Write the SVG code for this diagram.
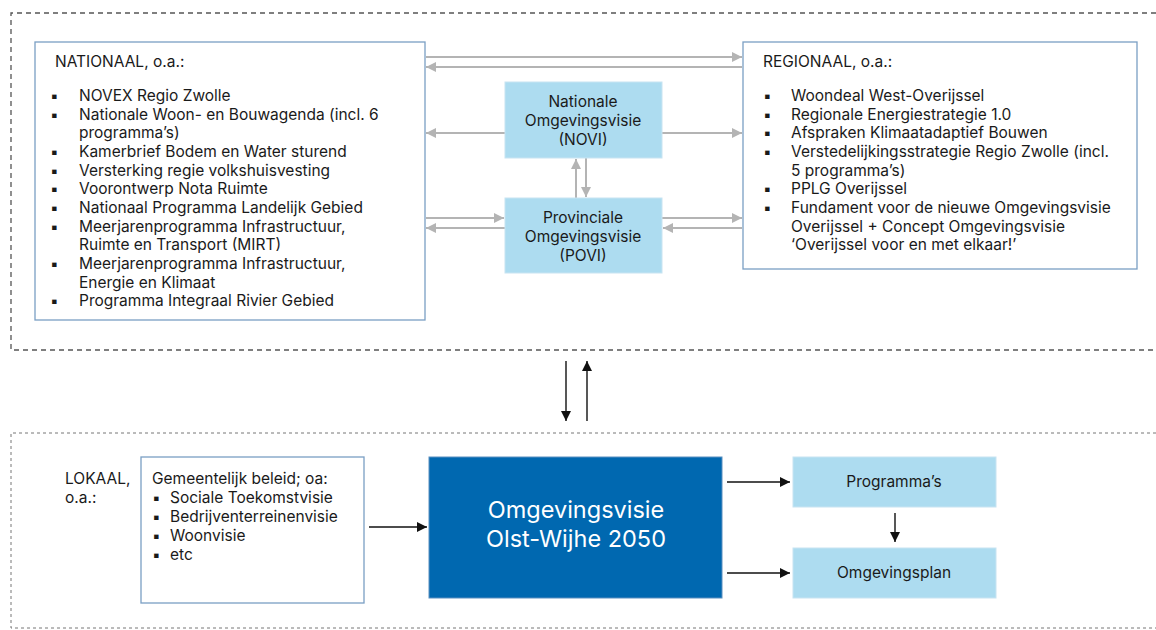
<svg xmlns="http://www.w3.org/2000/svg" width="1156" height="630" viewBox="0 0 1156 630">
<style>
text{font-family:Inter,"Noto Sans",sans-serif;font-size:15.5px;fill:#1a1a1a}
.frame{fill:none;stroke:#555;stroke-width:1.3;stroke-dasharray:5 4}
.frame2{fill:none;stroke:#777;stroke-width:1;stroke-dasharray:3 3}
.box{fill:#fff;stroke:#7a9fc4;stroke-width:1.3}
.lb{fill:#addcf0;stroke:#c8e4f2;stroke-width:1}
.g{stroke:#b4b4b4;stroke-width:2;fill:none}
.k{stroke:#111;stroke-width:1.4;fill:none}
.c{text-anchor:middle}
.big{font-size:23.5px;fill:#fff}
</style>
<defs>
<marker id="ag" viewBox="0 0 10 10" refX="10" refY="5" markerWidth="10" markerHeight="10" markerUnits="userSpaceOnUse" orient="auto"><path d="M0,0L10,5L0,10z" fill="#b4b4b4"/></marker>
<marker id="ak" viewBox="0 0 10 10" refX="10" refY="5" markerWidth="10" markerHeight="10" markerUnits="userSpaceOnUse" orient="auto"><path d="M0,0L10,5L0,10z" fill="#111"/></marker>
</defs>
<g id="frames">
<path class="frame" d="M1156,13H11V350H1156"/>
<path class="frame2" d="M1156,433H11V628H1156"/>
</g>
<g id="connectors">
<line class="g" x1="426" y1="57" x2="742" y2="57" marker-end="url(#ag)"/>
<line class="g" x1="742" y1="67" x2="426" y2="67" marker-end="url(#ag)"/>
<line class="g" x1="505" y1="133" x2="426" y2="133" marker-end="url(#ag)"/>
<line class="g" x1="662" y1="133" x2="742" y2="133" marker-end="url(#ag)"/>
<line class="g" x1="576" y1="198" x2="576" y2="159" marker-end="url(#ag)"/>
<line class="g" x1="586" y1="158" x2="586" y2="197" marker-end="url(#ag)"/>
<line class="g" x1="426" y1="218" x2="504" y2="218" marker-end="url(#ag)"/>
<line class="g" x1="505" y1="228" x2="426" y2="228" marker-end="url(#ag)"/>
<line class="g" x1="662" y1="218" x2="742" y2="218" marker-end="url(#ag)"/>
<line class="g" x1="742" y1="228" x2="663" y2="228" marker-end="url(#ag)"/>
<line class="k" x1="566" y1="361" x2="566" y2="421" marker-end="url(#ak)"/>
<line class="k" x1="587" y1="421" x2="587" y2="361" marker-end="url(#ak)"/>
<line class="k" x1="369" y1="527" x2="427" y2="527" marker-end="url(#ak)"/>
<line class="k" x1="727" y1="482" x2="790" y2="482" marker-end="url(#ak)"/>
<line class="k" x1="727" y1="573" x2="790" y2="573" marker-end="url(#ak)"/>
<line class="k" x1="895" y1="513" x2="895" y2="542" marker-end="url(#ak)"/>
</g>
<g id="nationaal">
<rect class="box" x="35" y="42" width="390" height="278"/>
<text x="55" y="67">NATIONAAL, o.a.:</text>
<text x="50" y="101">▪</text><text x="79" y="101">NOVEX Regio Zwolle</text>
<text x="50" y="120">▪</text><text x="79" y="120">Nationale Woon- en Bouwagenda (incl. 6</text>
<text x="79" y="138">programma’s)</text>
<text x="50" y="157">▪</text><text x="79" y="157">Kamerbrief Bodem en Water sturend</text>
<text x="50" y="176">▪</text><text x="79" y="176">Versterking regie volkshuisvesting</text>
<text x="50" y="194">▪</text><text x="79" y="194">Voorontwerp Nota Ruimte</text>
<text x="50" y="213">▪</text><text x="79" y="213">Nationaal Programma Landelijk Gebied</text>
<text x="50" y="232">▪</text><text x="79" y="232">Meerjarenprogramma Infrastructuur,</text>
<text x="79" y="250">Ruimte en Transport (MIRT)</text>
<text x="50" y="269">▪</text><text x="79" y="269">Meerjarenprogramma Infrastructuur,</text>
<text x="79" y="288">Energie en Klimaat</text>
<text x="50" y="306">▪</text><text x="79" y="306">Programma Integraal Rivier Gebied</text>
</g>
<g id="novi">
<rect class="lb" x="505" y="82" width="157" height="76"/>
<text class="c" x="583" y="107">Nationale</text>
<text class="c" x="583" y="126">Omgevingsvisie</text>
<text class="c" x="583" y="145">(NOVI)</text>
</g>
<g id="povi">
<rect class="lb" x="505" y="198" width="157" height="75"/>
<text class="c" x="583" y="223">Provinciale</text>
<text class="c" x="583" y="242">Omgevingsvisie</text>
<text class="c" x="583" y="261">(POVI)</text>
</g>
<g id="regionaal">
<rect class="box" x="743" y="42" width="394" height="227"/>
<text x="763" y="67">REGIONAAL, o.a.:</text>
<text x="763" y="101">▪</text><text x="791" y="101">Woondeal West-Overijssel</text>
<text x="763" y="120">▪</text><text x="791" y="120">Regionale Energiestrategie 1.0</text>
<text x="763" y="138">▪</text><text x="791" y="138">Afspraken Klimaatadaptief Bouwen</text>
<text x="763" y="157">▪</text><text x="791" y="157">Verstedelijkingsstrategie Regio Zwolle (incl.</text>
<text x="791" y="176">5 programma’s)</text>
<text x="763" y="194">▪</text><text x="791" y="194">PPLG Overijssel</text>
<text x="763" y="213">▪</text><text x="791" y="213">Fundament voor de nieuwe Omgevingsvisie</text>
<text x="791" y="232">Overijssel + Concept Omgevingsvisie</text>
<text x="791" y="250">‘Overijssel voor en met elkaar!’</text>
</g>
<g id="lokaal">
<text x="65" y="484">LOKAAL,</text>
<text x="65" y="503">o.a.:</text>
</g>
<g id="gemeentelijk">
<rect class="box" x="141" y="457" width="223" height="146"/>
<text x="152" y="484">Gemeentelijk beleid; oa:</text>
<text x="152" y="503">▪</text><text x="170" y="503">Sociale Toekomstvisie</text>
<text x="152" y="522">▪</text><text x="170" y="522">Bedrijventerreinenvisie</text>
<text x="152" y="541">▪</text><text x="170" y="541">Woonvisie</text>
<text x="152" y="560">▪</text><text x="170" y="560">etc</text>
</g>
<g id="omgevingsvisie">
<rect x="429" y="457" width="293" height="141" fill="#0068b0" stroke="#5a8fc0" stroke-width="1"/>
<text class="c big" x="576" y="518">Omgevingsvisie</text>
<text class="c big" x="576" y="547">Olst-Wijhe 2050</text>
</g>
<g id="programmas">
<rect class="lb" x="793" y="457" width="203" height="50"/>
<text class="c" x="894" y="487">Programma’s</text>
</g>
<g id="omgevingsplan">
<rect class="lb" x="793" y="548" width="203" height="50"/>
<text class="c" x="894" y="578">Omgevingsplan</text>
</g>
</svg>
